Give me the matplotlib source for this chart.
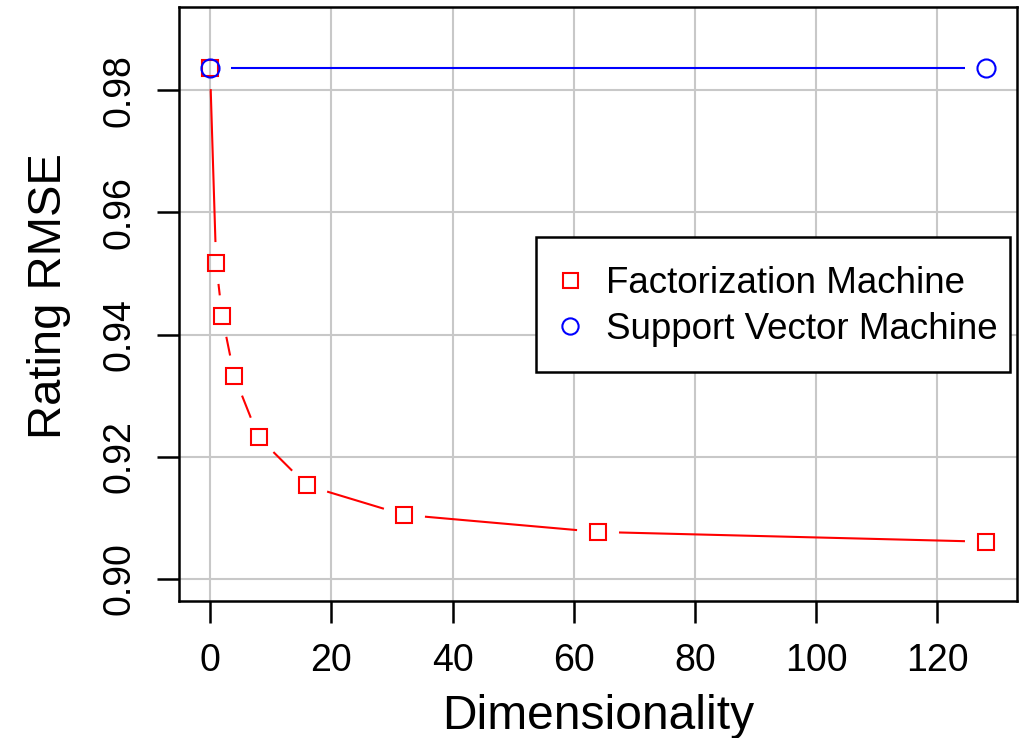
import matplotlib

matplotlib.use("Agg")

import matplotlib.pyplot as plt
from matplotlib.patches import Rectangle
import numpy as np

plt.rcParams["font.family"] = ["Liberation Sans", "DejaVu Sans"]

# values
dims = [0, 1, 2, 4, 8, 16, 32, 64, 128]
fm_rmse = [0.9836, 0.9517, 0.9430, 0.9332, 0.9232, 0.9153, 0.9105, 0.9077, 0.9061]
svm_dims = [0, 128]
svm_rmse = [0.9836, 0.9836]

x_ticks = [0, 20, 40, 60, 80, 100, 120]
y_ticks = [0.90, 0.92, 0.94, 0.96, 0.98]

W, H, DPI = 1025, 738, 100
fig = plt.figure(figsize=(W / DPI, H / DPI), dpi=DPI)
ax = fig.add_axes([179 / W, 1 - 601 / H, (1017 - 179) / W, (601 - 7) / H])

# R-style limits: range extended by 4%
ax.set_xlim(0 - 0.04 * 128, 128 + 0.04 * 128)
ax.set_ylim(0.90 - 0.04 * 0.09, 0.99 + 0.04 * 0.09)

ax.set_xticks(x_ticks)
ax.set_yticks(y_ticks)
ax.set_yticklabels([f"{v:.2f}" for v in y_ticks])
ax.grid(True, color="#c8c8c8", linewidth=1.5)
ax.set_axisbelow(True)

for s in ax.spines.values():
    s.set_linewidth(1.8)
    s.set_color("black")

ax.tick_params(length=16, width=1.8, labelsize=27, pad=14)
plt.setp(ax.get_yticklabels(), rotation=90, va="center", ha="right")

ax.set_xlabel("Dimensionality", fontsize=34.5, labelpad=11)
ax.set_ylabel("Rating RMSE", fontsize=34, labelpad=22)
ax.yaxis.label.set_y(0.513)


def gapped_line(xs, ys, color, gap_px=21):
    # type="b" style: segments stop short of the points
    pts = ax.transData.transform(np.column_stack([xs, ys]))
    inv = ax.transData.inverted()
    for p0, p1 in zip(pts[:-1], pts[1:]):
        d = p1 - p0
        n = np.hypot(*d)
        if n <= 2 * gap_px:
            continue
        u = d / n
        a = inv.transform(p0 + u * gap_px)
        b = inv.transform(p1 - u * gap_px)
        ax.plot([a[0], b[0]], [a[1], b[1]], color=color, linewidth=1.5,
                solid_capstyle="butt", zorder=3)


gapped_line(dims, fm_rmse, "red")
gapped_line(svm_dims, svm_rmse, "blue")

ax.plot(dims, fm_rmse, linestyle="none", marker="s", markersize=12,
        markerfacecolor="none", markeredgecolor="red", markeredgewidth=1.5,
        zorder=4, label="Factorization Machine")
ax.plot(svm_dims, svm_rmse, linestyle="none", marker="o", markersize=13,
        markerfacecolor="none", markeredgecolor="blue", markeredgewidth=1.5,
        zorder=5, label="Support Vector Machine")

# legend box drawn by hand, entries placed inside it
ax.add_patch(Rectangle((536 / W, 1 - 372 / H), (1010 - 536) / W, (372 - 237) / H,
                       transform=fig.transFigure, facecolor="white",
                       edgecolor="black", linewidth=1.8, zorder=6, clip_on=False))
leg = ax.legend(loc="upper left", bbox_to_anchor=(550 / W, 1 - 266 / H),
                bbox_transform=fig.transFigure, fontsize=26.5, frameon=False,
                handlelength=1.1, handletextpad=0.42, borderpad=0,
                labelspacing=0.29, borderaxespad=0, markerscale=0.9)
leg.set_zorder(7)

fig.savefig("out.png", dpi=DPI)
